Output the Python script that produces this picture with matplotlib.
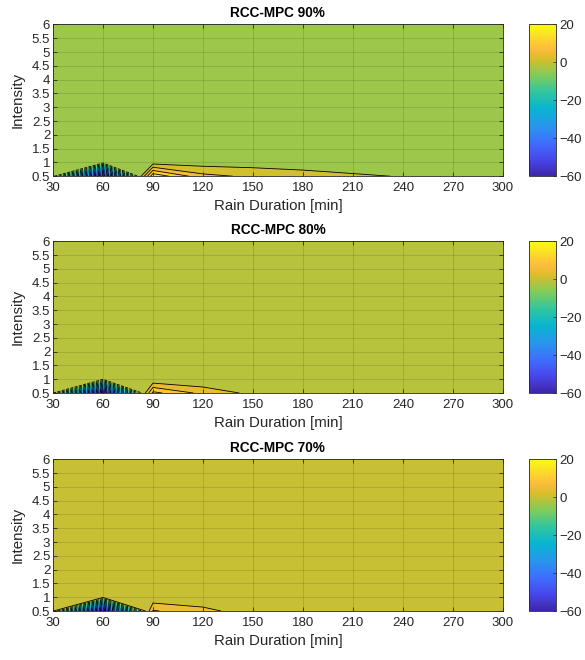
import numpy as np
import matplotlib
matplotlib.use("Agg")
import matplotlib.pyplot as plt
from matplotlib.colors import LinearSegmentedColormap, Normalize
from matplotlib.cm import ScalarMappable
from matplotlib.ticker import FormatStrFormatter

plt.rcParams['font.family'] = ['Liberation Sans', 'DejaVu Sans']

# Grid of the surface
durations = [30, 60, 90, 120, 150, 180, 210, 240, 270, 300]
intensities = [0.5, 1.0, 1.5, 2.0, 2.5, 3.0, 3.5, 4.0, 4.5, 5.0, 5.5, 6.0]

# Values: only the lowest intensity row differs from the flat level
titles = ["RCC-MPC 90%", "RCC-MPC 80%", "RCC-MPC 70%"]
backgrounds = [-1.5, -1.0, 1.0]
bottom_90 = [-2.5, -60, 20, 7.5, 5, 3, 1.6, 0.8, -1.5, -1.5]
bottom_80 = [-1.2, -60, 15, 7, 2.2, -1, -1, -1, -1, -1]
bottom_70 = [0.5, -60, 10.5, 6.6, 2.2, 1, 1, 1, 1, 1]
bottoms = [bottom_90, bottom_80, bottom_70]

cbar_ticks = [-60, -40, -20, 0, 20]
clim = (-60, 20)

# parula-like colormap
parula_pts = [
    (0.000, (0.2422, 0.1504, 0.6603)),
    (0.111, (0.2803, 0.2782, 0.9221)),
    (0.222, (0.2440, 0.4358, 0.9988)),
    (0.333, (0.1540, 0.5902, 0.9218)),
    (0.444, (0.0297, 0.7082, 0.8163)),
    (0.556, (0.1938, 0.7758, 0.6251)),
    (0.667, (0.5044, 0.7993, 0.3480)),
    (0.778, (0.8634, 0.7406, 0.1596)),
    (0.840, (0.9900, 0.7300, 0.2400)),
    (0.889, (0.9892, 0.8136, 0.1885)),
    (1.000, (0.9769, 0.9839, 0.0805)),
]
parula = LinearSegmentedColormap.from_list("parula", parula_pts)
norm = Normalize(*clim, clip=True)

# contour level offsets (style only)
level_offsets = [1.0, 3.5, 0.0]

TXT = (0.15, 0.15, 0.15)

fig = plt.figure(figsize=(5.85, 6.6), dpi=100)
bottoms_fig = [0.733, 0.4045, 0.0742]
X, Y = np.meshgrid(durations, intensities)

for i in range(3):
    ax = fig.add_axes([0.0906, bottoms_fig[i], 0.769, 0.230])
    Z = np.full((len(intensities), len(durations)), backgrounds[i], dtype=float)
    Z[0, :] = bottoms[i]

    levels = np.arange(-65 + level_offsets[i], 22.5, 5)
    # MATLAB style: fill each band with the colour of its lower level
    fill_colors = [parula(norm(l)) for l in levels[:-1]]
    ax.contourf(X, Y, Z, levels=levels, colors=fill_colors)
    ax.contour(X, Y, Z, levels=levels, colors='k', linewidths=0.6)

    ax.set_xlim(30, 300)
    ax.set_ylim(0.5, 6)
    ax.set_xticks(durations)
    ax.set_yticks(intensities)
    ax.yaxis.set_major_formatter(FormatStrFormatter('%g'))
    ax.tick_params(direction='in', top=True, right=True, length=3,
                   width=0.6, labelsize=9.5, colors=TXT)
    ax.tick_params(axis='x', pad=4)
    ax.tick_params(axis='y', pad=2)
    for sp in ax.spines.values():
        sp.set_color(TXT)
        sp.set_linewidth(0.6)
    ax.set_axisbelow(False)
    ax.grid(True, color=TXT, alpha=0.18, linewidth=0.6)

    ax.set_title(titles[i], fontsize=9.8, fontweight='bold', color='black', pad=5)
    ax.set_xlabel("Rain Duration [min]", fontsize=10.8, color=TXT, labelpad=4)
    ax.set_ylabel("Intensity", fontsize=10.8, color=TXT, labelpad=5)

    cax = fig.add_axes([0.905, bottoms_fig[i], 0.046, 0.230])
    cb = fig.colorbar(ScalarMappable(norm=norm, cmap=parula), cax=cax, ticks=cbar_ticks)
    cb.ax.tick_params(direction='in', length=2.5, width=0.5, labelsize=9.5,
                      colors=TXT, pad=2)
    cb.outline.set_edgecolor(TXT)
    cb.outline.set_linewidth(0.6)

fig.savefig("out.png", dpi=100)
